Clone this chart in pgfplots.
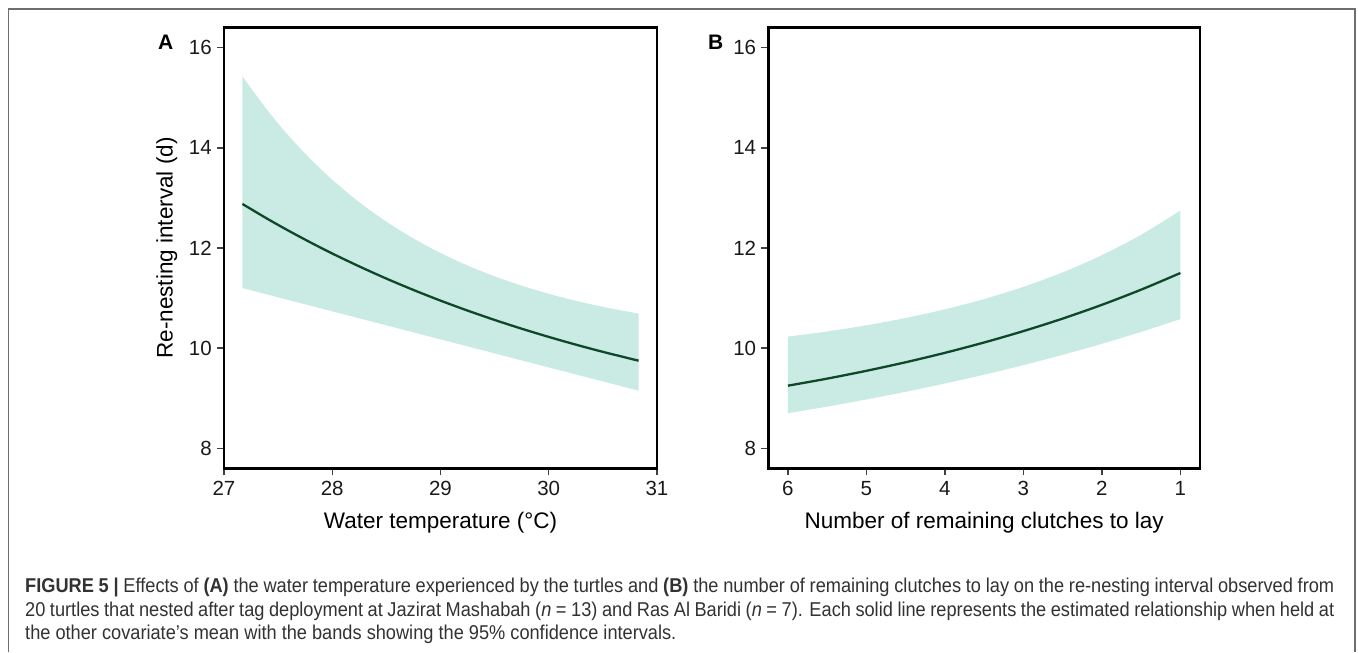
\documentclass[border=0pt]{standalone}
\usepackage{fontspec}
\setmainfont{Liberation Sans}
\newfontfamily\capfont[FakeStretch=0.91]{Liberation Sans}
\usepackage{pgfplots}
\pgfplotsset{compat=1.18}
\usepgfplotslibrary{fillbetween}
\definecolor{band}{RGB}{201,235,227}
\definecolor{curve}{RGB}{14,72,40}
\definecolor{framec}{RGB}{110,110,110}
\definecolor{captxt}{RGB}{50,50,50}

\pgfplotstableread{
x lo mid up
27.17 11.200 12.880 15.430
27.40 11.071 12.584 14.754
27.60 10.959 12.341 14.235
27.80 10.847 12.110 13.774
28.00 10.735 11.890 13.364
28.25 10.595 11.632 12.914
28.50 10.455 11.389 12.526
28.75 10.315 11.162 12.190
29.00 10.175 10.949 11.900
29.25 10.035 10.750 11.650
29.50 9.895 10.563 11.433
29.75 9.755 10.388 11.247
30.00 9.615 10.224 11.085
30.25 9.475 10.070 10.945
30.50 9.335 9.926 10.825
30.83 9.150 9.749 10.690
}\dataA

\pgfplotstableread{
x lo mid up
6.0 8.700 9.250 10.230
5.5 8.832 9.391 10.333
5.0 8.975 9.547 10.456
4.5 9.128 9.718 10.602
4.0 9.293 9.906 10.775
3.5 9.470 10.113 10.980
3.0 9.661 10.340 11.224
2.5 9.866 10.590 11.513
2.0 10.087 10.865 11.857
1.5 10.325 11.168 12.265
1.0 10.580 11.500 12.749
}\dataB

\pgfplotsset{
  panel/.style={
    scale only axis, width=433pt, height=440.6pt,
    ymin=7.6, ymax=16.4, ytick={8,10,12,14,16},
    axis line style={line width=2.6pt, black},
    tick align=outside, tick pos=left,
    major tick length=7pt,
    tick style={line width=1.3pt, black!75},
    /pgf/number format/assume math mode=true,
    tick label style={font=\fontsize{20.5}{24}\selectfont, text=black!90, inner sep=0pt},
    xticklabel style={anchor=center, yshift=-13.4pt},
    yticklabel style={anchor=east, xshift=-5pt},
    label style={font=\fontsize{22.5}{26}\selectfont, text=black},
    xlabel style={at={(axis description cs:0.5,-0.123)}, anchor=center},
    clip=false,
  }
}

\begin{document}
\begin{tikzpicture}
\path (0pt,0pt) rectangle (1358pt,652pt);
\draw[framec, line width=1.6pt] (8.3pt,0pt) -- (8.3pt,643pt) -- (1355pt,643pt) -- (1355pt,0pt);

\begin{axis}[panel, at={(224pt,183.7pt)}, anchor=south west,
  xmin=27, xmax=31, xtick={27,28,29,30,31},
  xlabel={Water temperature (°C)},
  ylabel={Re-nesting interval (d)},
  ylabel style={at={(axis description cs:-0.132,0.5)}, anchor=center},
]
\addplot[name path=upA, draw=none, smooth] table[x=x,y=up] {\dataA};
\addplot[name path=loA, draw=none, smooth] table[x=x,y=lo] {\dataA};
\addplot[band, draw=none] fill between[of=upA and loA];
\addplot[curve, line width=2.3pt, smooth] table[x=x,y=mid] {\dataA};
\node[font=\bfseries\fontsize{21}{24}\selectfont, anchor=center, inner sep=0pt] at (axis description cs:-0.1346,0.968) {A};
\end{axis}

\begin{axis}[panel, at={(768.3pt,183.7pt)}, anchor=south west, width=431.7pt,
  x dir=reverse, xmin=0.75, xmax=6.25, xtick={1,2,3,4,5,6},
  xlabel={Number of remaining clutches to lay},
]
\addplot[name path=upB, draw=none, smooth] table[x=x,y=up] {\dataB};
\addplot[name path=loB, draw=none, smooth] table[x=x,y=lo] {\dataB};
\addplot[band, draw=none] fill between[of=upB and loB];
\addplot[curve, line width=2.3pt, smooth] table[x=x,y=mid] {\dataB};
\node[font=\bfseries\fontsize{21}{24}\selectfont, anchor=center, inner sep=0pt] at (axis description cs:-0.1218,0.968) {B};
\end{axis}

\begin{scope}[every node/.style={anchor=base west, inner sep=0pt, text=captxt, font=\capfont\fontsize{20}{24}\selectfont}]
\node at (25pt,59pt) {\makebox[1309pt][s]{\textbf{FIGURE 5 |} Effects of \textbf{(A)} the water temperature experienced by the turtles and \textbf{(B)} the number of remaining clutches to lay on the re-nesting interval observed from}};
\node at (25pt,35.5pt) {\makebox[1309pt][s]{20 turtles that nested after tag deployment at Jazirat Mashabah (\textit{n} = 13) and Ras Al Baridi (\textit{n} = 7). Each solid line represents the estimated relationship when held at}};
\node at (25pt,12pt) {the other covariate’s mean with the bands showing the 95\% confidence intervals.};
\end{scope}
\end{tikzpicture}
\end{document}
